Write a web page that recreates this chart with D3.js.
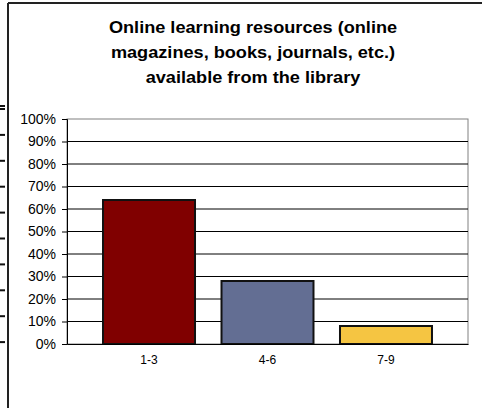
<!DOCTYPE html>
<html>
<head>
<meta charset="utf-8">
<script src="https://cdn.jsdelivr.net/npm/d3@7"></script>
<style>
  body { margin: 0; background: #fff; }
  svg { display: block; font-family: "Liberation Sans", Arial, sans-serif; }
</style>
</head>
<body>
<div id="chart"></div>
<script>
// data
var categories = ["1-3", "4-6", "7-9"];
var shares = [0.64, 0.28, 0.08];
var barColors = ["#800000", "#636e93", "#f5c542"];
var yTicks = [0, 0.1, 0.2, 0.3, 0.4, 0.5, 0.6, 0.7, 0.8, 0.9, 1.0];
var titleLines = [
    "Online learning resources (online",
    "magazines, books, journals, etc.)",
    "available from the library"
];

var width = 482,
    height = 408,
    plot = {left: 67, right: 468, top: 119, bottom: 344};

var svg = d3.select("#chart")
    .append("svg")
    .attr("width", width)
    .attr("height", height);

// scales
var xScale = d3.scaleBand()
    .domain(categories)
    .range([plot.left, plot.right])
    .paddingInner(0.2236)
    .paddingOuter(0.304);

var yScale = d3.scaleLinear()
    .domain([0, 1])
    .range([plot.bottom, plot.top]);

// outer frame (left and top edges only are visible)
svg.append("line")
    .attr("x1", 8).attr("y1", 3).attr("x2", 8).attr("y2", height)
    .attr("stroke", "#222").attr("stroke-width", 2);
svg.append("line")
    .attr("x1", 8).attr("y1", 3).attr("x2", width).attr("y2", 3)
    .attr("stroke", "#222").attr("stroke-width", 2);

// bits of a neighbouring chart peeking in at the left edge
var dashY = [106].concat(d3.range(10).map(function(i) { return 109 + i * 25.9; }));
svg.selectAll("rect.dash")
    .data(dashY)
    .enter().append("rect")
    .attr("class", "dash")
    .attr("x", 0).attr("y", function(d) { return d - 1; })
    .attr("width", 5).attr("height", 2)
    .attr("fill", "#111");

// title (the original is a little stretched sideways)
svg.append("text")
    .attr("transform", "translate(253,0) scale(1.1,1)")
    .attr("text-anchor", "middle")
    .attr("font-weight", "bold")
    .attr("font-size", "16.5px")
    .attr("fill", "#000")
    .selectAll("tspan")
    .data(titleLines)
    .enter().append("tspan")
    .attr("x", 0)
    .attr("y", function(d, i) { return 33.5 + i * 24.7; })
    .text(function(d) { return d; });

// plot frame (top and right)
svg.append("rect")
    .attr("x", plot.left).attr("y", plot.top)
    .attr("width", plot.right - plot.left)
    .attr("height", plot.bottom - plot.top)
    .attr("fill", "none")
    .attr("stroke", "#808080")
    .attr("stroke-width", 1);

// gridlines
svg.selectAll("line.grid")
    .data(yTicks.slice(1, -1))
    .enter().append("line")
    .attr("class", "grid")
    .attr("x1", plot.left).attr("x2", plot.right)
    .attr("y1", function(d) { return yScale(d); })
    .attr("y2", function(d) { return yScale(d); })
    .attr("stroke", "#000")
    .attr("stroke-width", 1);

// y axis
var yAxis = d3.axisLeft(yScale)
    .tickValues(yTicks)
    .tickFormat(d3.format(".0%"))
    .tickSize(5)
    .tickPadding(6);

var gy = svg.append("g")
    .attr("transform", "translate(" + plot.left + ",0)")
    .call(yAxis);
gy.select(".domain").attr("stroke", "#000");
gy.selectAll(".tick line").attr("stroke", "#000");
gy.selectAll(".tick text")
    .attr("font-size", "14px")
    .attr("font-family", "Liberation Sans, Arial, sans-serif")
    .attr("fill", "#000");

// bars
svg.selectAll("rect.bar")
    .data(shares)
    .enter().append("rect")
    .attr("class", "bar")
    .attr("x", function(d, i) { return xScale(categories[i]); })
    .attr("y", function(d) { return yScale(d); })
    .attr("width", xScale.bandwidth())
    .attr("height", function(d) { return plot.bottom - yScale(d); })
    .attr("fill", function(d, i) { return barColors[i]; })
    .attr("stroke", "#111")
    .attr("stroke-width", 2);

// x axis
var xAxis = d3.axisBottom(xScale)
    .tickSize(0)
    .tickPadding(11);

var gx = svg.append("g")
    .attr("transform", "translate(0," + plot.bottom + ")")
    .call(xAxis);
gx.select(".domain").attr("stroke", "#000");
gx.selectAll(".tick text")
    .attr("font-size", "12px")
    .attr("font-family", "Liberation Sans, Arial, sans-serif")
    .attr("fill", "#000");
</script>
</body>
</html>
